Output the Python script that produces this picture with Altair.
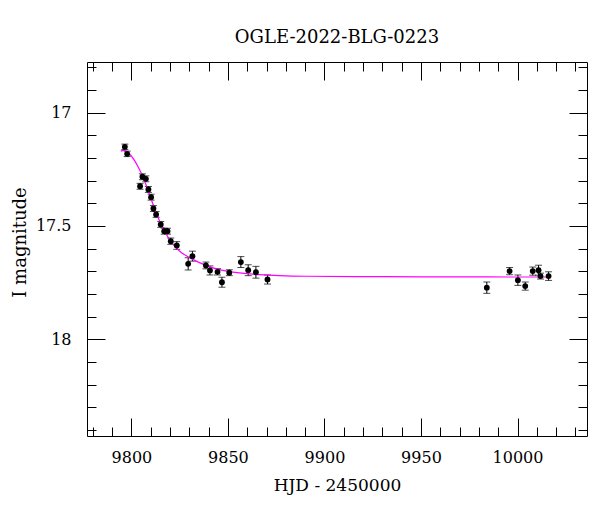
import altair as alt
import pandas as pd

# Observations (HJD - 2450000, I magnitude, error)
hjd = [9796.6, 9797.8, 9805.7, 9807.5, 9804.5, 9808.8, 9810.2, 9811.4, 9812.8,
       9815.2, 9817.0, 9818.7, 9820.4, 9823.5, 9829.4, 9831.6, 9838.6, 9840.7,
       9844.6, 9846.9, 9850.7, 9856.7, 9860.5, 9864.5, 9870.5,
       9984.1, 9995.9, 10000.2, 10004.0, 10007.9, 10010.9, 10011.9, 10016.1]
mag = [17.151, 17.182, 17.283, 17.292, 17.325, 17.339, 17.373, 17.423, 17.449,
       17.493, 17.523, 17.523, 17.567, 17.586, 17.667, 17.633, 17.674, 17.696,
       17.702, 17.748, 17.706, 17.659, 17.695, 17.704, 17.736,
       17.772, 17.699, 17.739, 17.765, 17.699, 17.695, 17.721, 17.721]
err = [0.012, 0.012, 0.013, 0.013, 0.013, 0.013, 0.013, 0.013, 0.013,
       0.013, 0.013, 0.013, 0.014, 0.017, 0.027, 0.022, 0.015, 0.020,
       0.014, 0.022, 0.013, 0.024, 0.024, 0.026, 0.020,
       0.025, 0.016, 0.023, 0.018, 0.018, 0.022, 0.013, 0.019]

# Model curve
model_hjd = [9794.5, 9796.2, 9798.8, 9801.4, 9804.0, 9805.7, 9808.3, 9810.9,
             9813.5, 9816.1, 9819.5, 9823.0, 9825.6, 9831.6, 9838.6, 9845.5,
             9855.8, 9866.2, 9876.6, 9887.0, 9920.0, 9950.0, 9985.0, 10016.0]
model_mag = [17.170, 17.163, 17.178, 17.207, 17.247, 17.276, 17.335, 17.398,
             17.457, 17.508, 17.559, 17.596, 17.617, 17.648, 17.675, 17.694,
             17.708, 17.715, 17.719, 17.722, 17.723, 17.724, 17.725, 17.725]

x_major = [9800, 9850, 9900, 9950, 10000]
x_minor = [9780, 9790, 9800, 9810, 9820, 9830, 9840, 9850, 9860, 9870, 9880,
           9890, 9900, 9910, 9920, 9930, 9940, 9950, 9960, 9970, 9980, 9990,
           10000, 10010, 10020, 10030]
y_major = [17, 17.5, 18]
y_minor = [16.8, 16.9, 17.0, 17.1, 17.2, 17.3, 17.4, 17.5, 17.6, 17.7, 17.8,
           17.9, 18.0, 18.1, 18.2, 18.3, 18.4]

obs = pd.DataFrame({"hjd": hjd, "mag": mag, "err": err})
obs["lo"] = obs["mag"] - obs["err"]
obs["hi"] = obs["mag"] + obs["err"]
model = pd.DataFrame({"hjd": model_hjd, "mag": model_mag})

FONT = "DejaVu Serif"
xs = alt.Scale(domain=[9777, 10036], nice=False, zero=False)
ys = alt.Scale(domain=[16.777, 18.426], nice=False, zero=False, reverse=True)


def tick_axis(orient, values, size):
    return alt.Axis(orient=orient, values=values, tickSize=size, offset=-size,
                    labels=False, domain=False, grid=False, title=None,
                    tickColor="black", tickWidth=1)


x_label_axis = alt.Axis(orient="bottom", values=x_major, format="d", ticks=False,
                        tickSize=0, domain=False, grid=False,
                        labelPadding=13, labelFontSize=16, labelColor="black",
                        labelFont=FONT,
                        title="HJD - 2450000", titleFontSize=17, titleFont=FONT,
                        titleFontWeight="normal", titleColor="black",
                        titleBaseline="alphabetic", titleY=54)
y_label_axis = alt.Axis(orient="left", values=y_major, format="~g", ticks=False,
                        tickSize=0, domain=False, grid=False,
                        labelPadding=16, labelFontSize=16, labelColor="black",
                        labelFont=FONT,
                        title="I magnitude", titleFontSize=18, titleFont=FONT,
                        titleFontWeight="normal", titleColor="black",
                        titleBaseline="alphabetic", titleAngle=-90,
                        titleX=-62, titleY=180, titleAlign="center")

curve = alt.Chart(model).mark_line(color="#ff00ff", strokeWidth=1.2,
                                   interpolate="basis").encode(
    x=alt.X("hjd:Q", scale=xs, axis=x_label_axis),
    y=alt.Y("mag:Q", scale=ys, axis=y_label_axis),
)

rules = alt.Chart(obs).mark_rule(color="black", strokeWidth=1).encode(
    x=alt.X("hjd:Q", scale=xs, axis=tick_axis("bottom", x_major, 18)),
    y=alt.Y("lo:Q", scale=ys, axis=tick_axis("left", y_major, 18)),
    y2="hi:Q",
)

caps_lo = alt.Chart(obs).mark_tick(color="black", orient="horizontal", size=7,
                                   thickness=1).encode(
    x=alt.X("hjd:Q", scale=xs, axis=tick_axis("bottom", x_minor, 9)),
    y=alt.Y("lo:Q", scale=ys, axis=tick_axis("left", y_minor, 9)),
)

caps_hi = alt.Chart(obs).mark_tick(color="black", orient="horizontal", size=7,
                                   thickness=1).encode(
    x=alt.X("hjd:Q", scale=xs, axis=tick_axis("top", x_major, 18)),
    y=alt.Y("hi:Q", scale=ys, axis=tick_axis("right", y_major, 18)),
)

points = alt.Chart(obs).mark_circle(color="black", size=34, opacity=1).encode(
    x=alt.X("hjd:Q", scale=xs, axis=tick_axis("top", x_minor, 9)),
    y=alt.Y("mag:Q", scale=ys, axis=tick_axis("right", y_minor, 9)),
)

chart = alt.layer(rules, caps_lo, caps_hi, curve, points).resolve_axis(
    x="independent", y="independent"
).properties(
    width=500,
    height=374,
    autosize=alt.AutoSizeParams(type="none"),
    padding={"left": 79, "top": 54, "right": 5, "bottom": 66},
    title=alt.TitleParams("OGLE-2022-BLG-0223", font=FONT, fontSize=18,
                          fontWeight="normal", color="black", anchor="middle",
                          offset=15),
).configure_view(stroke="black", strokeWidth=1)

chart.save("out.html", embed_options={"renderer": "svg", "actions": False})
